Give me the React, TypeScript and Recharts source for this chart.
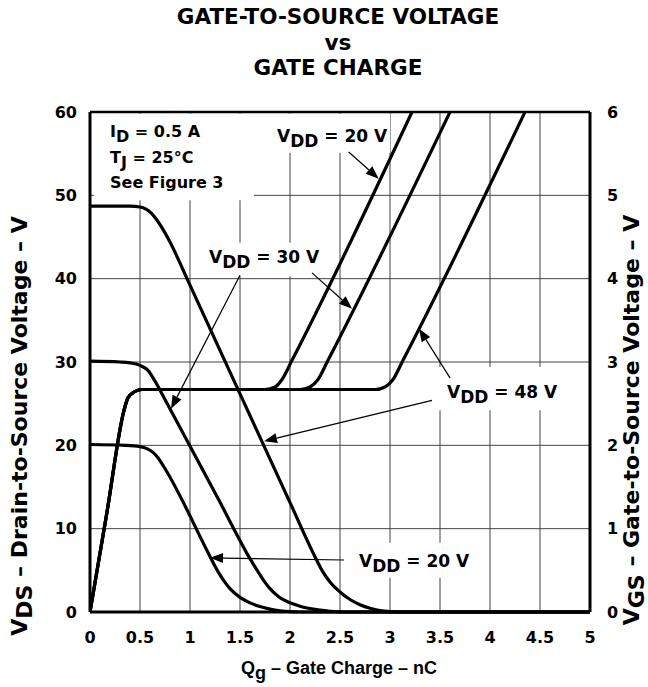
import React from 'react';
import {
  LineChart,
  Line,
  XAxis,
  YAxis,
  CartesianGrid,
  ReferenceLine,
  ReferenceArea,
  ReferenceDot,
} from 'recharts';

type Pt = [number, number];

const FONT = '"DejaVu Sans", Arial, sans-serif';
const NARROW = '"Liberation Sans", Arial, sans-serif';

// axis ticks
const qTicks = [0, 0.5, 1, 1.5, 2, 2.5, 3, 3.5, 4, 4.5, 5];
const vdsTicks = [0, 10, 20, 30, 40, 50, 60];
const vgsTicks = [0, 1, 2, 3, 4, 5, 6];

// drain-to-source voltage (V) vs gate charge (nC)
const vds20: Pt[] = [
  [0, 20.1], [0.35, 20.0], [0.5, 19.85], [0.57, 19.6], [0.63, 19.15], [0.68, 18.5],
  [0.74, 17.4], [1.19, 6.9], [1.25, 5.5], [1.3, 4.45], [1.35, 3.55], [1.4, 2.8],
  [1.5, 1.75], [1.6, 1.1], [1.7, 0.65], [1.8, 0.35], [1.9, 0.15], [2.0, 0.04],
  [2.1, 0], [5, 0],
];
const vds30: Pt[] = [
  [0, 30.1], [0.3, 30.0], [0.4, 29.9], [0.5, 29.6], [0.58, 29.0], [0.65, 27.7],
  [0.75, 25.5], [1.29, 13.4], [1.6, 6.4], [1.69, 4.65], [1.75, 3.55], [1.8, 2.8],
  [1.89, 1.8], [2.0, 1.1], [2.1, 0.7], [2.2, 0.42], [2.3, 0.22], [2.4, 0.09],
  [2.5, 0.02], [2.6, 0], [5, 0],
];
const vds48: Pt[] = [
  [0, 48.7], [0.4, 48.7], [0.5, 48.6], [0.56, 48.35], [0.61, 47.9], [0.66, 47.2],
  [0.71, 46.3], [0.8, 44.4], [0.97, 40.0], [1.99, 13.4], [2.25, 6.64], [2.32, 5.0],
  [2.4, 3.6], [2.5, 2.4], [2.6, 1.5], [2.7, 0.88], [2.8, 0.45], [2.9, 0.18],
  [3.0, 0.05], [3.1, 0], [5, 0],
];

// gate-to-source voltage (V): shared ramp + plateau, then rise per VDD
const gateRamp: Pt[] = [
  [0, 0], [0.17, 1.2], [0.34, 2.42], [0.38, 2.57], [0.44, 2.64], [0.52, 2.67],
];
const vgs20Rise: Pt[] = [[1.75, 2.67], [1.85, 2.7], [1.92, 2.79], [2.02, 3.02], [3.22, 6.0]];
const vgs30Rise: Pt[] = [[2.1, 2.67], [2.2, 2.7], [2.28, 2.79], [2.38, 3.02], [3.6, 6.0]];
const vgs48Rise: Pt[] = [[2.85, 2.67], [2.95, 2.7], [3.03, 2.79], [3.13, 3.02], [4.35, 6.0]];

const rows = (pts: Pt[]) => pts.map(([q, v]) => ({ q, v }));

const Arrow = (p: any) => {
  const { x1, y1, x2, y2 } = p;
  const a = Math.atan2(y2 - y1, x2 - x1);
  const len = 13;
  const half = 5;
  const bx = x2 - len * Math.cos(a);
  const by = y2 - len * Math.sin(a);
  const nx = -Math.sin(a) * half;
  const ny = Math.cos(a) * half;
  return (
    <g>
      <line x1={x1} y1={y1} x2={bx} y2={by} stroke="#000" strokeWidth={1.2} />
      <polygon points={`${x2},${y2} ${bx + nx},${by + ny} ${bx - nx},${by - ny}`} fill="#000" />
    </g>
  );
};

const VddNote = ({ cx, cy, volts }: { cx: number; cy: number; volts: string }) => (
  <text x={cx} y={cy} fontFamily={FONT} fontWeight={700} fontSize={17} fill="#000">
    V<tspan dy={5}>DD</tspan>
    <tspan dy={-5}>{` = ${volts} V`}</tspan>
  </text>
);

const CondNote = ({ cx, cy, main, sub, rest }: any) => (
  <text x={cx} y={cy} fontFamily={FONT} fontWeight={700} fontSize={16} fill="#000">
    {main}
    {sub ? <tspan dy={5}>{sub}</tspan> : null}
    <tspan dy={sub ? -5 : 0}>{rest}</tspan>
  </text>
);

const tickStyle = { fill: '#000', fontSize: 16, fontWeight: 700, fontFamily: FONT };

const lineProps = { dataKey: 'v', type: 'monotone' as const, stroke: '#000', strokeWidth: 3.2, dot: false, isAnimationActive: false };

export default function App() {
  return (
    <div style={{ position: 'absolute', left: 0, top: 0, width: 648, height: 687, background: '#fff', fontFamily: FONT }}>
      <LineChart width={648} height={687} margin={{ top: 112, right: 0, bottom: 0, left: 0 }}>
        <CartesianGrid yAxisId="vds" stroke="#444" strokeWidth={1} />
        <XAxis
          dataKey="q"
          type="number"
          domain={[0, 5]}
          ticks={qTicks}
          height={75}
          tickLine={false}
          tickMargin={14}
          axisLine={{ stroke: '#000', strokeWidth: 3 }}
          tick={tickStyle}
          allowDataOverflow
        />
        <YAxis
          yAxisId="vds"
          orientation="left"
          domain={[0, 60]}
          ticks={vdsTicks}
          width={90}
          tickLine={false}
          tickMargin={7}
          axisLine={{ stroke: '#000', strokeWidth: 3 }}
          tick={tickStyle}
        />
        <YAxis
          yAxisId="vgs"
          orientation="right"
          domain={[0, 6]}
          ticks={vgsTicks}
          width={58}
          tickLine={false}
          tickMargin={11}
          axisLine={{ stroke: '#000', strokeWidth: 3 }}
          tick={{ ...tickStyle, textAnchor: 'start' }}
        />
        <ReferenceLine yAxisId="vds" y={60} stroke="#000" strokeWidth={2.5} />

        {/* white label boxes that break the grid */}
        <ReferenceArea yAxisId="vds" x1={0.04} x2={1.64} y1={49.4} y2={59.8} fill="#fff" fillOpacity={1} stroke="none" />
        <ReferenceArea yAxisId="vds" x1={1.8} x2={3.0} y1={55.1} y2={59.8} fill="#fff" fillOpacity={1} stroke="none" />
        <ReferenceArea yAxisId="vds" x1={1.12} x2={2.37} y1={40.3} y2={44.3} fill="#fff" fillOpacity={1} stroke="none" />
        <ReferenceArea yAxisId="vds" x1={3.45} x2={4.72} y1={24.2} y2={29.4} fill="#fff" fillOpacity={1} stroke="none" />
        <ReferenceArea yAxisId="vds" x1={2.62} x2={3.82} y1={4.1} y2={8.3} fill="#fff" fillOpacity={1} stroke="none" />

        <Line yAxisId="vds" data={rows(vds20)} {...lineProps} />
        <Line yAxisId="vds" data={rows(vds30)} {...lineProps} />
        <Line yAxisId="vds" data={rows(vds48)} {...lineProps} />
        <Line yAxisId="vgs" data={rows([...gateRamp, ...vgs20Rise])} {...lineProps} />
        <Line yAxisId="vgs" data={rows([...gateRamp, ...vgs30Rise])} {...lineProps} />
        <Line yAxisId="vgs" data={rows([...gateRamp, ...vgs48Rise])} {...lineProps} />

        {/* arrows: tail -> tip */}
        <ReferenceLine yAxisId="vds" segment={[{ x: 2.587, y: 55.2 }, { x: 2.887, y: 52.0 }]} shape={Arrow} />
        <ReferenceLine yAxisId="vds" segment={[{ x: 2.22, y: 40.7 }, { x: 2.62, y: 36.4 }]} shape={Arrow} />
        <ReferenceLine yAxisId="vds" segment={[{ x: 1.5, y: 40.4 }, { x: 0.81, y: 24.4 }]} shape={Arrow} />
        <ReferenceLine yAxisId="vds" segment={[{ x: 3.6, y: 28.1 }, { x: 3.29, y: 34.0 }]} shape={Arrow} />
        <ReferenceLine yAxisId="vds" segment={[{ x: 3.42, y: 25.4 }, { x: 1.74, y: 20.5 }]} shape={Arrow} />
        <ReferenceLine yAxisId="vds" segment={[{ x: 2.54, y: 6.24 }, { x: 1.2, y: 6.5 }]} shape={Arrow} />

        {/* annotations */}
        <ReferenceDot yAxisId="vds" x={0.2} y={57.0} r={0} shape={(p: any) => <CondNote cx={p.cx} cy={p.cy} main="I" sub="D" rest=" = 0.5 A" />} />
        <ReferenceDot yAxisId="vds" x={0.2} y={53.9} r={0} shape={(p: any) => <CondNote cx={p.cx} cy={p.cy} main="T" sub="J" rest=" = 25°C" />} />
        <ReferenceDot yAxisId="vds" x={0.2} y={50.9} r={0} shape={(p: any) => <CondNote cx={p.cx} cy={p.cy} main="See Figure 3" rest="" />} />
        <ReferenceDot yAxisId="vds" x={1.87} y={56.4} r={0} shape={(p: any) => <VddNote cx={p.cx} cy={p.cy} volts="20" />} />
        <ReferenceDot yAxisId="vds" x={1.19} y={41.9} r={0} shape={(p: any) => <VddNote cx={p.cx} cy={p.cy} volts="30" />} />
        <ReferenceDot yAxisId="vds" x={3.57} y={25.7} r={0} shape={(p: any) => <VddNote cx={p.cx} cy={p.cy} volts="48" />} />
        <ReferenceDot yAxisId="vds" x={2.69} y={5.4} r={0} shape={(p: any) => <VddNote cx={p.cx} cy={p.cy} volts="20" />} />
      </LineChart>

      {/* title */}
      <div style={{ position: 'absolute', left: 0, width: 676, top: 4, textAlign: 'center', fontWeight: 700, fontSize: 21.5, lineHeight: '25.5px', color: '#000' }}>
        <div>GATE-TO-SOURCE VOLTAGE</div>
        <div>vs</div>
        <div>GATE CHARGE</div>
      </div>

      {/* axis titles */}
      <div style={{ position: 'absolute', left: 339, top: 668, transform: 'translate(-50%, -50%)', whiteSpace: 'nowrap', fontWeight: 700, fontSize: 18, fontFamily: NARROW }}>
        Q<span style={{ position: 'relative', top: 5 }}>g</span> – Gate Charge – nC
      </div>
      <div style={{ position: 'absolute', left: 19, top: 426, transform: 'translate(-50%, -50%) rotate(-90deg)', whiteSpace: 'nowrap', fontWeight: 700, fontSize: 22 }}>
        V<span style={{ position: 'relative', top: 5 }}>DS</span> – Drain-to-Source Voltage – V
      </div>
      <div style={{ position: 'absolute', left: 631, top: 420, transform: 'translate(-50%, -50%) rotate(-90deg)', whiteSpace: 'nowrap', fontWeight: 700, fontSize: 22 }}>
        V<span style={{ position: 'relative', top: 5 }}>GS</span> – Gate-to-Source Voltage – V
      </div>
    </div>
  );
}
